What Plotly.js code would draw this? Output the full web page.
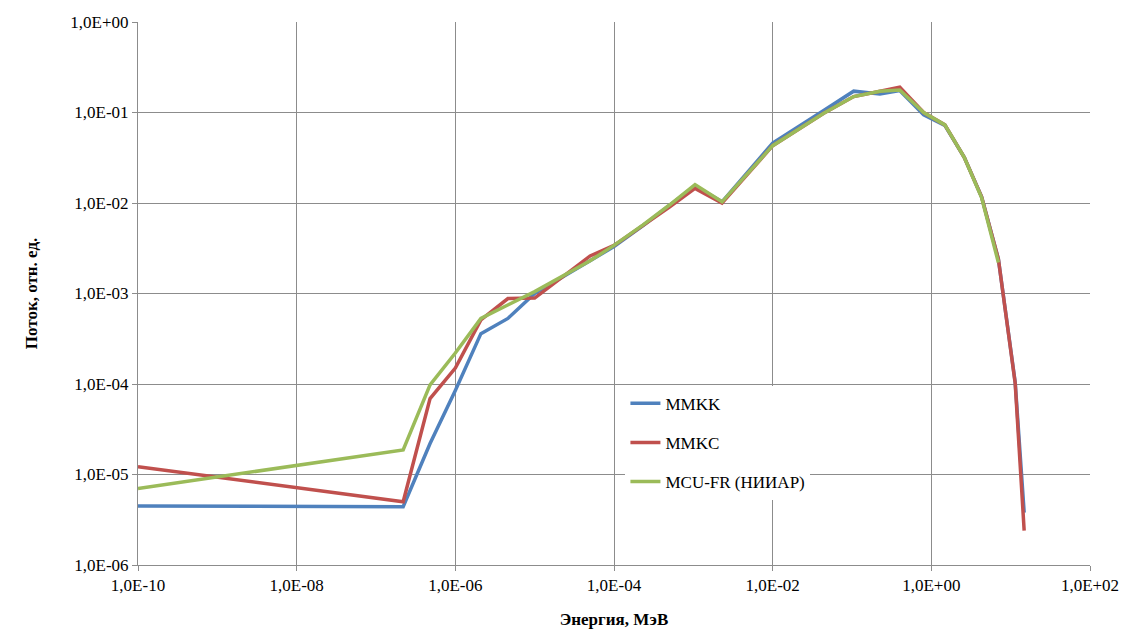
<!DOCTYPE html>
<html>
<head>
<meta charset="utf-8">
<script src="https://cdn.plot.ly/plotly-3.0.1.min.js"></script>
<style>html,body{margin:0;padding:0;background:#fff;}#chart{width:1135px;height:633px;}</style>
</head>
<body>
<div id="chart"></div>
<script>
const seriesNames = ["MMKK", "MMKC", "MCU-FR (НИИАР)"];
const seriesColors = ["#4F81BD", "#C0504D", "#9BBB59"];

const energyMMKK = [1e-10, 2.2e-7, 4.8e-7, 1e-6, 2.1e-6, 4.6e-6, 1e-5, 5e-5, 1e-4, 2.3e-4, 5e-4, 1.05e-3, 2.3e-3, 1e-2, 4.4e-2, 0.105, 0.225, 0.4, 0.8, 1.48, 2.6, 4.3, 7.0, 11.4, 14.8];
const fluxMMKK = [4.5e-6, 4.4e-6, 2.2e-5, 8.5e-5, 3.6e-4, 5.3e-4, 1.0e-3, 2.3e-3, 3.3e-3, 5.6e-3, 9.3e-3, 1.55e-2, 1.03e-2, 4.6e-2, 1.05e-1, 1.72e-1, 1.6e-1, 1.75e-1, 9.4e-2, 7.2e-2, 3.2e-2, 1.17e-2, 2.4e-3, 1.05e-4, 3.8e-6];

const energyMMKC = [1e-10, 2.2e-7, 4.8e-7, 1e-6, 2.1e-6, 4.6e-6, 1e-5, 5e-5, 1e-4, 2.3e-4, 5e-4, 1.05e-3, 2.3e-3, 1e-2, 4.4e-2, 0.105, 0.225, 0.4, 0.8, 1.48, 2.6, 4.3, 7.0, 11.4, 14.8];
const fluxMMKC = [1.22e-5, 5.0e-6, 6.9e-5, 1.5e-4, 5.1e-4, 8.8e-4, 8.9e-4, 2.6e-3, 3.4e-3, 5.6e-3, 9.0e-3, 1.45e-2, 1.0e-2, 4.3e-2, 9.8e-2, 1.5e-1, 1.7e-1, 1.9e-1, 1.0e-1, 7.3e-2, 3.2e-2, 1.17e-2, 2.4e-3, 1.02e-4, 2.4e-6];

const energyMCU = [1e-10, 2.2e-7, 4.8e-7, 1e-6, 2.1e-6, 1e-5, 5e-5, 1e-4, 2.3e-4, 5e-4, 1.05e-3, 2.3e-3, 1e-2, 4.4e-2, 0.105, 0.225, 0.4, 0.8, 1.48, 2.6, 4.3, 7.0];
const fluxMCU = [7.0e-6, 1.87e-5, 9.8e-5, 2.2e-4, 5.3e-4, 1.05e-3, 2.3e-3, 3.4e-3, 5.7e-3, 9.5e-3, 1.6e-2, 1.03e-2, 4.3e-2, 9.8e-2, 1.5e-1, 1.72e-1, 1.77e-1, 1.0e-1, 7.3e-2, 3.2e-2, 1.15e-2, 2.2e-3];

const xTickVals = [1e-10, 1e-8, 1e-6, 1e-4, 1e-2, 1e0, 1e2];
const xTickText = ["1,0E-10", "1,0E-08", "1,0E-06", "1,0E-04", "1,0E-02", "1,0E+00", "1,0E+02"];
const yTickVals = [1e-6, 1e-5, 1e-4, 1e-3, 1e-2, 1e-1, 1e0];
const yTickText = ["1,0E-06", "1,0E-05", "1,0E-04", "1,0E-03", "1,0E-02", "1,0E-01", "1,0E+00"];

const xs = [energyMMKK, energyMMKC, energyMCU];
const ys = [fluxMMKK, fluxMMKC, fluxMCU];

const traces = seriesNames.map((n, i) => ({
  x: xs[i], y: ys[i], name: n, type: 'scatter', mode: 'lines',
  line: {color: seriesColors[i], width: 3.5},
  legendgroup: 'g' + i
}));

const serif = "Liberation Serif";
const gridColor = '#8c8c8c';

const layout = {
  width: 1135, height: 633,
  margin: {l: 138, r: 45, t: 22, b: 68},
  paper_bgcolor: '#fff', plot_bgcolor: '#fff',
  font: {family: serif, size: 17, color: '#000'},
  showlegend: true,
  legend: {x: 0.512, y: 0.33, xanchor: 'left', yanchor: 'top', bgcolor: '#fff',
           font: {family: serif, size: 17, color: '#000'}, tracegroupgap: 14, traceorder: 'grouped'},
  xaxis: {
    type: 'log', range: [-10, 2],
    tickvals: xTickVals, ticktext: xTickText,
    showgrid: true, gridcolor: gridColor, gridwidth: 1,
    showline: true, linecolor: gridColor, linewidth: 1,
    ticks: 'outside', ticklen: 5, tickcolor: gridColor,
    tickfont: {family: serif, size: 17, color: '#000'},
    zeroline: false,
    title: {text: 'Энергия, МэВ', font: {family: serif, size: 17, color: '#000', weight: 'bold'}, standoff: 18}
  },
  yaxis: {
    type: 'log', range: [-6, 0],
    tickvals: yTickVals, ticktext: yTickText,
    showgrid: true, gridcolor: gridColor, gridwidth: 1,
    showline: true, linecolor: gridColor, linewidth: 1,
    ticks: 'outside', ticklen: 5, tickcolor: gridColor,
    tickfont: {family: serif, size: 17, color: '#000'},
    zeroline: false,
    title: {text: 'Поток, отн. ед.', font: {family: serif, size: 17, color: '#000', weight: 'bold'}, standoff: 28}
  }
};

Plotly.newPlot('chart', traces, layout, {displayModeBar: false, responsive: false});
</script>
</body>
</html>
